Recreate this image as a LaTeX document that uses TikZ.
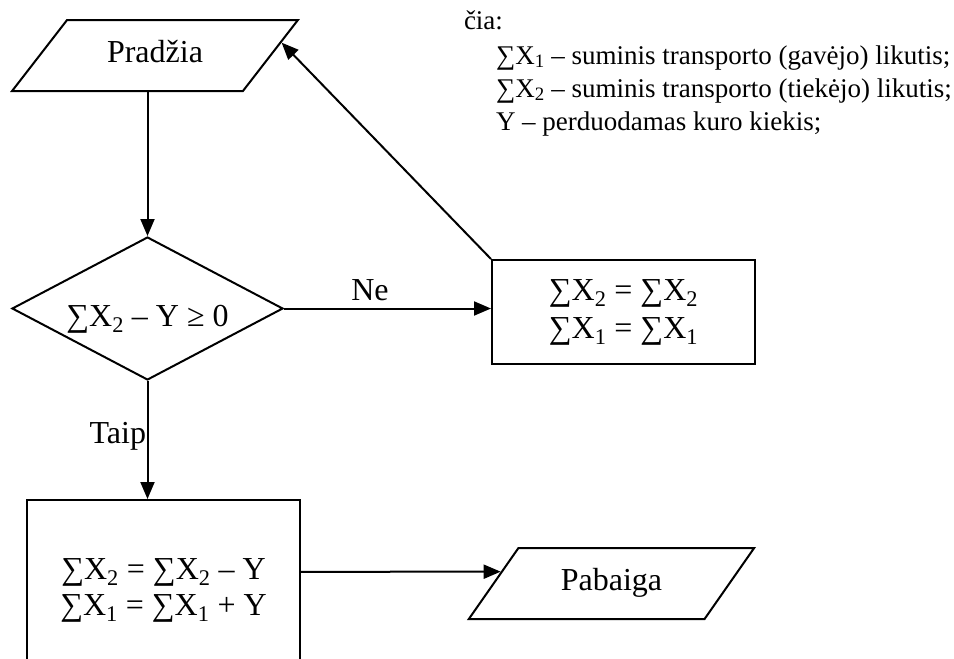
\documentclass[tikz,border=0pt]{standalone}
\usepackage{fontspec}
\setmainfont{Liberation Serif}
\usetikzlibrary{arrows.meta,shapes.geometric,calc}
\begin{document}
\begin{tikzpicture}[x=1pt,y=-1pt,
  line width=2pt,
  big/.style={font=\fontsize{32}{38}\selectfont},
  arr/.style={-{Triangle[length=17pt,width=14pt]}},
  io/.style={draw, big, trapezium, trapezium left angle=45, trapezium right angle=135,
    trapezium stretches=true, minimum width=286pt, minimum height=71pt, inner sep=0pt},
  dec/.style={draw, big, diamond, aspect=1.895, minimum width=271pt, minimum height=143pt, inner sep=0pt},
  procbox/.style={draw, big, rectangle, align=center, inner sep=0pt},
  lbl/.style={big, inner sep=0pt},
  leg/.style={font=\fontsize{27}{33}\selectfont, inner sep=0pt}]
\useasboundingbox (0,0) rectangle (954,659);
\clip (0,0) rectangle (954,659);
% nodes
\node[io, text height=22pt, text depth=8pt] (p) at (155,55.5) {Pradžia};
\node[dec, text height=36pt, text depth=1pt] (d) at (147.5,308.5) {∑X\textsubscript{2} – Y ≥ 0};
\node[procbox, minimum width=263pt, minimum height=104pt] (r) at (623.5,312)
  {∑X\textsubscript{2} = ∑X\textsubscript{2}\\∑X\textsubscript{1} = ∑X\textsubscript{1}};
\node[procbox, minimum width=273pt, minimum height=180pt, font=\fontsize{32}{36}\selectfont] (bb) at (163.5,590)
  {∑X\textsubscript{2} = ∑X\textsubscript{2} – Y\\∑X\textsubscript{1} = ∑X\textsubscript{1} + Y};
\node[io, text height=20pt, text depth=7pt] (e) at (611.5,583.5) {Pabaiga};
\node[lbl, anchor=base] (ne) at (370,300) {Ne};
\node[lbl, anchor=base east] (taip) at (147,443) {Taip};
% legend
\node[leg, anchor=base west] (cia) at (463,29) {čia:};
\node[leg, anchor=base west] (l1) at (495,64) {∑X\textsubscript{1} – suminis transporto (gavėjo) likutis;};
\node[leg, anchor=base west] (l2) at (495,97) {∑X\textsubscript{2} – suminis transporto (tiekėjo) likutis;};
\node[leg, anchor=base west] (l3) at (495,130) {Y – perduodamas kuro kiekis;};
% connectors
\coordinate (pin) at ($(p.top right corner)!0.324!(p.bottom right corner)$);
\coordinate (bbo) at ($(bb.north east)!0.4!(bb.south east)$);
\coordinate (ein) at ($(e.top left corner)!0.338!(e.bottom left corner)$);
\draw[arr] (p.south -| d.north) -- (d.north);
\draw[arr] (d.east) -- (d.east -| r.west);
\draw[arr] (d.south) -- (d.south |- bb.north);
\draw[arr] (r.north west) -- (pin);
\draw[arr] (bbo) -- (ein);
\end{tikzpicture}
\end{document}
